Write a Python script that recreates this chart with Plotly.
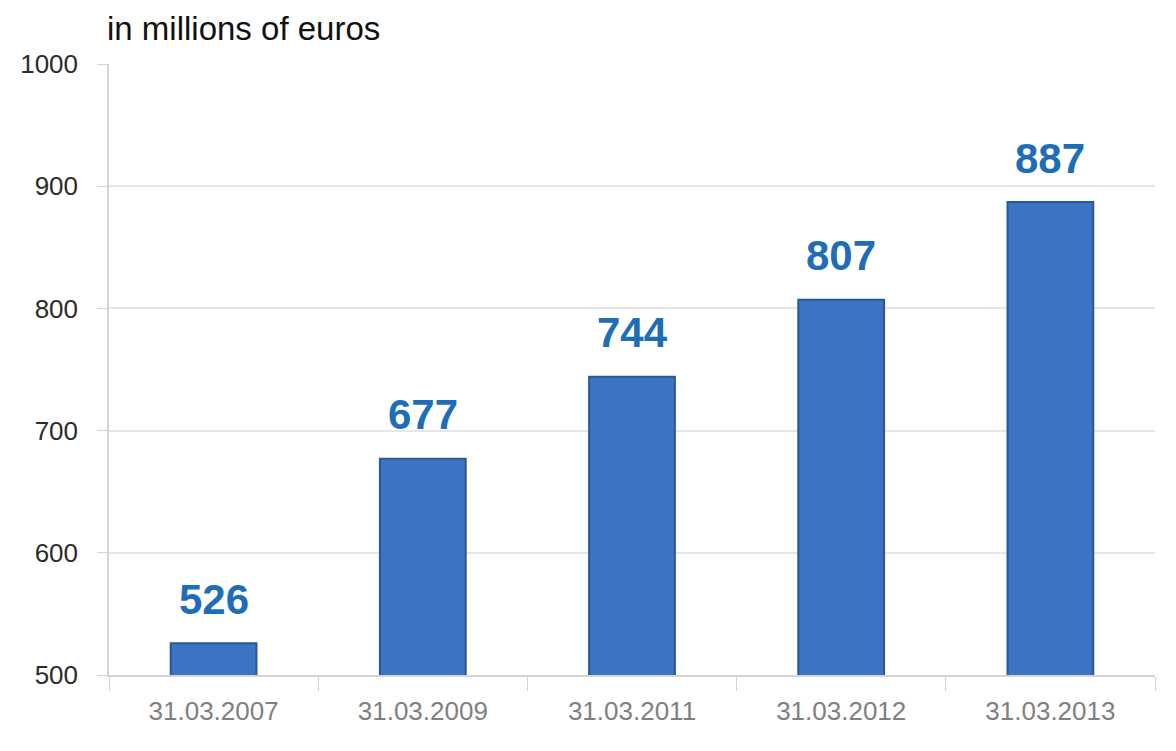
import plotly.graph_objects as go

categories = ["31.03.2007", "31.03.2009", "31.03.2011", "31.03.2012", "31.03.2013"]
values = [526, 677, 744, 807, 887]
y_ticks = [500, 600, 700, 800, 900, 1000]

FONT = "Liberation Sans, Arial, sans-serif"

fig = go.Figure()
fig.add_trace(go.Bar(
    x=categories, y=values,
    marker=dict(color="#3b74c2", line=dict(color="#2a5796", width=2)),
    width=0.41,
    hoverinfo="x+y",
))

for c, v in zip(categories, values):
    fig.add_annotation(
        x=c, y=v, text=str(v), showarrow=False,
        yanchor="middle", yshift=44,
        font=dict(family=FONT, size=42, color="#1f6db6", weight="bold"),
    )

fig.add_annotation(
    xref="paper", yref="paper", x=0, y=1.0, xshift=-4, yshift=36,
    text="in millions of euros", showarrow=False,
    xanchor="left", yanchor="middle",
    font=dict(family=FONT, size=33, color="#111111"),
)

fig.update_layout(
    width=1176, height=751,
    margin=dict(l=95, r=29, t=56, b=84),
    paper_bgcolor="white", plot_bgcolor="white",
    showlegend=False,
    xaxis=dict(
        showline=True, linecolor="#d4d4d4", linewidth=1.5,
        ticks="outside", ticklen=14, tickcolor="#d4d4d4", tickson="boundaries",
        ticklabelstandoff=12,
        tickfont=dict(family=FONT, size=26, color="#808080"),
        showgrid=False,
    ),
    yaxis=dict(
        range=[500, 1000], tickvals=y_ticks,
        showline=True, linecolor="#d4d4d4", linewidth=1.5,
        ticks="outside", ticklen=10, tickcolor="#d4d4d4",
        ticklabelstandoff=14,
        showgrid=True, gridcolor="#e6e6e6", gridwidth=1.5,
        tickfont=dict(family=FONT, size=26, color="#2b2b2b"),
        zeroline=False,
    ),
)

fig.write_html("out.html")
